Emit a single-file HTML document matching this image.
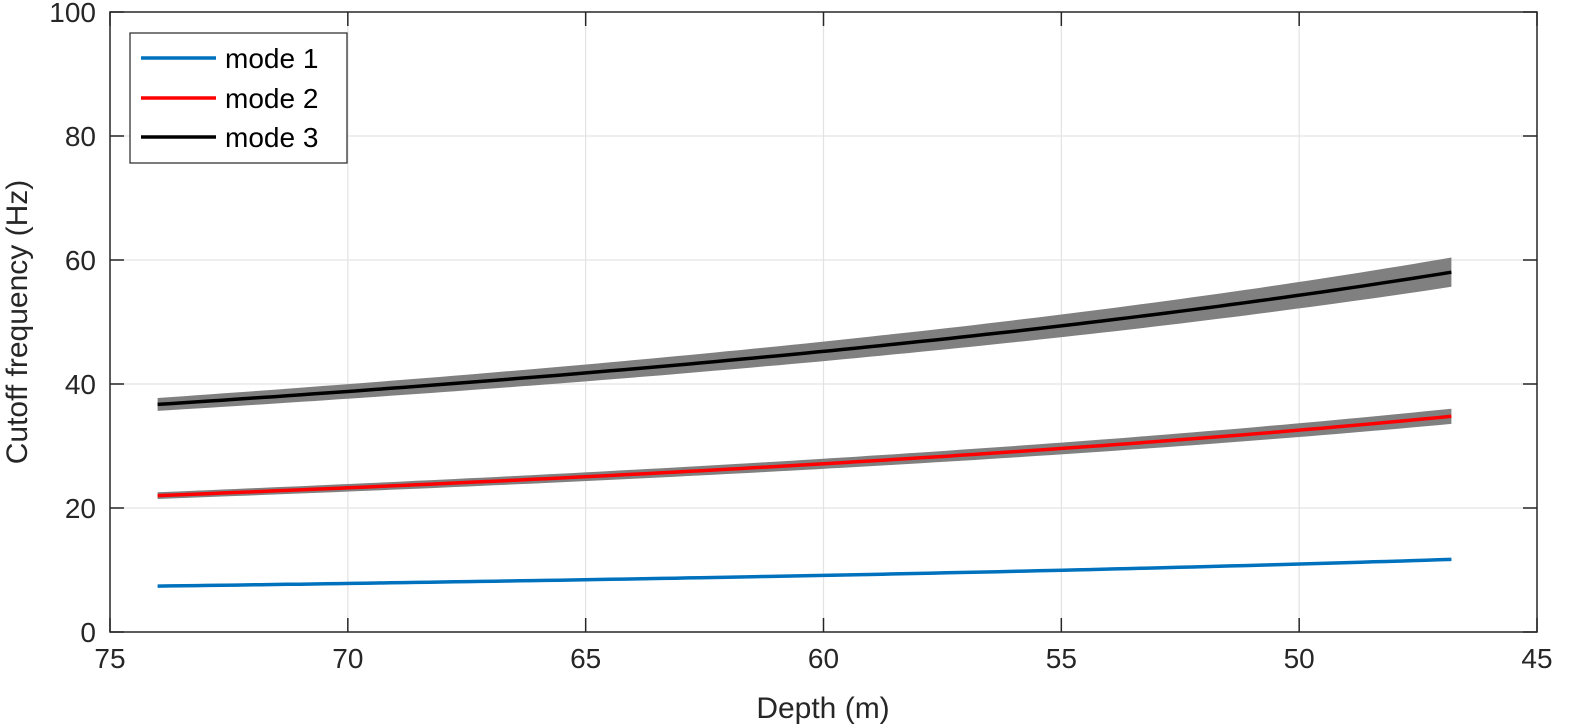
<!DOCTYPE html>
<html><head><meta charset="utf-8"><style>
html,body{margin:0;padding:0;background:#fff;}
svg{display:block;font-family:"Liberation Sans",sans-serif;}
</style></head><body>
<svg id="s" width="1575" height="728" viewBox="0 0 1575 728">
<rect x="0" y="0" width="1575" height="728" fill="#fff"/>
<g id="grid" stroke="#e3e3e3" stroke-width="1.2"></g>
<g id="bands"></g>
<g id="lines" fill="none" stroke-width="3.5"></g>
<rect x="110" y="12" width="1427" height="620" fill="none" stroke="#262626" stroke-width="1.5"/>
<g id="ticks" stroke="#262626" stroke-width="1.5"></g>
<g id="labels" font-size="28" fill="#262626"></g>
<text x="823" y="718" font-size="30" fill="#262626" text-anchor="middle">Depth (m)</text>
<text transform="translate(27,322) rotate(-90)" font-size="30" fill="#262626" text-anchor="middle">Cutoff frequency (Hz)</text>
<rect x="130" y="33" width="217" height="130" fill="#fff" stroke="#262626" stroke-width="1.2"/>
<line x1="141" y1="58" x2="216" y2="58" stroke="#0072BD" stroke-width="3.5"/>
<line x1="141" y1="98" x2="216" y2="98" stroke="#ff0000" stroke-width="3.5"/>
<line x1="141" y1="137" x2="216" y2="137" stroke="#000" stroke-width="3.5"/>
<text x="225" y="68" font-size="28">mode 1</text>
<text x="225" y="108" font-size="28">mode 2</text>
<text x="225" y="147" font-size="28">mode 3</text>
</svg>
<script>
var NS="http://www.w3.org/2000/svg";
function X(d){return 110+(75-d)*1427/30;}
function Y(v){return 632-v*6.2;}
function el(p,t,a,txt){var e=document.createElementNS(NS,t);for(var k in a)e.setAttribute(k,a[k]);if(txt!=null)e.textContent=txt;document.getElementById(p).appendChild(e);}
for(var d=70;d>=50;d-=5){el("grid","line",{x1:X(d),y1:12,x2:X(d),y2:632});}
for(var v=20;v<=80;v+=20){el("grid","line",{x1:110,y1:Y(v),x2:1537,y2:Y(v)});}
for(var d=75;d>=45;d-=5){var x=X(d);el("ticks","line",{x1:x,y1:632,x2:x,y2:618});el("ticks","line",{x1:x,y1:12,x2:x,y2:26});el("labels","text",{x:x,y:668,"text-anchor":"middle"},d);}
for(var v=0;v<=100;v+=20){var y=Y(v);el("ticks","line",{x1:110,y1:y,x2:124,y2:y});el("ticks","line",{x1:1537,y1:y,x2:1523,y2:y});el("labels","text",{x:96,y:y+10,"text-anchor":"end"},v);}
var modes=[[548,0.012,"#0072BD"],[1628,0.032,"#ff0000"],[2716,0.037,"#000"]];
modes.forEach(function(m){
 var up=[],lo=[],c=[];
 for(var i=0;i<=100;i++){var d=74-i*(74-46.8)/100;var f=m[0]/d;var w=m[1]*f*(0.7+0.3*i/100)*1.1;
  c.push(X(d).toFixed(1)+","+Y(f).toFixed(1));up.push(X(d).toFixed(1)+","+Y(f+w).toFixed(1));lo.unshift(X(d).toFixed(1)+","+Y(f-w).toFixed(1));}
 el("bands","polygon",{points:up.concat(lo).join(" "),fill:"#808080"});
 el("lines","polyline",{points:c.join(" "),stroke:m[2]});
});
</script>
</body></html>
